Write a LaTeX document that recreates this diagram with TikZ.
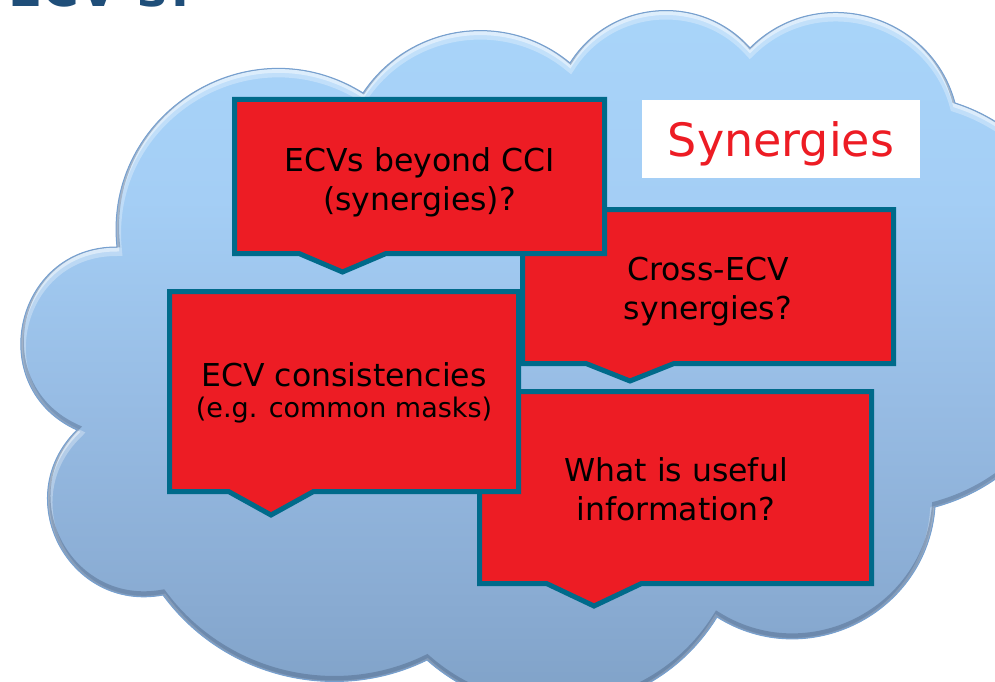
\documentclass[tikz,border=0pt]{standalone}
\usepackage{fontspec}
\setmainfont{DejaVu Sans}

\definecolor{boxred}{RGB}{237,28,36}
\definecolor{boxrim}{RGB}{0,106,138}
\definecolor{titleblue}{RGB}{31,78,121}
\definecolor{rimline}{RGB}{118,160,208}
\definecolor{rimdark}{RGB}{62,82,112}
\definecolor{cla}{RGB}{169,213,250}
\definecolor{clb}{RGB}{164,206,245}
\definecolor{clc}{RGB}{151,188,228}
\definecolor{cld}{RGB}{137,171,210}
\definecolor{cle}{RGB}{126,160,198}

% vertical fill of the cloud, light at the top, greyer towards the bottom
\pgfdeclareverticalshading{cloudfill}{100bp}{color(0bp)=(cle); color(25bp)=(cle);
  color(33.3bp)=(cld); color(47.2bp)=(clc); color(61.1bp)=(clb); color(75bp)=(cla);
  color(100bp)=(cla)}

\tikzset{
  lobe/.style 2 args={bend left=#1, looseness=#2},
  callout/.style={fill=boxred, draw=boxrim, line width=5pt, miter limit=10},
  callout text/.style={align=center, text=black, inner sep=0pt,
    font=\fontsize{31.5}{39}\selectfont},
}

% outline of the cloud, traced clockwise from the left notch
\newcommand\cloudpath{(77,430) to[lobe={78}{1.41}] (117,247) to[lobe={64}{1.18}] (363,93)
  to[lobe={48}{1.02}] (570,63) to[lobe={53}{1.06}] (750,48) to[lobe={60}{1.13}] (955,103)
  to[lobe={40}{0.96}] (1080,300) to[lobe={40}{0.96}] (935,507) to[lobe={59}{1.12}] (717,617)
  to[lobe={50}{1.04}] (427,660) to[lobe={40}{0.96}] (163,595) to[lobe={73}{1.32}] (77,430) -- cycle}

% callout: left, top, right, bottom, pointer left, tip x, pointer right, tip y
\newcommand\calloutbox[8]{\path[callout] (#1,#2) -- (#3,#2) -- (#3,#4) -- (#7,#4)
  -- (#6,#8) -- (#5,#4) -- (#1,#4) -- cycle;}

\begin{document}
\begin{tikzpicture}[x=1pt, y=-1pt]
\useasboundingbox (0,0) rectangle (995,682);
\clip (0,0) rectangle (995,682);

% heading, mostly above the page edge
\node[anchor=base west, inner sep=0pt, text=titleblue,
  font=\bfseries\fontsize{50}{55}\selectfont] (title) at (8.5,7) {ECV's?};

% cloud with a soft bevelled rim
\begin{scope}
  \clip \cloudpath;
  \shade[shading=cloudfill] (0,0) rectangle (1100,720);
  \draw[white, opacity=.30, line width=10pt, shift={(0,4)}] \cloudpath;
  \draw[white, opacity=.45, line width=4pt, shift={(0,2.5)}] \cloudpath;
  \draw[rimdark, opacity=.35, line width=6pt, shift={(0,-2.5)}] \cloudpath;
\end{scope}
\draw[rimline, line width=1pt] \cloudpath;

% label in the upper right
\node[fill=white, minimum width=278pt, minimum height=78pt, inner sep=0pt] (synbox) at (781,139) {};
\node[anchor=base, inner sep=0pt, text=boxred, font=\fontsize{46}{50}\selectfont] (syn) at (781,156) {Synergies};

% callouts, back to front
\calloutbox{479.5}{391.5}{871.5}{583.5}{546.5}{594}{641.5}{606}
\node[callout text] (useful) at (676,489) {What is useful\\information?};

\calloutbox{522.5}{209.5}{893.5}{363.5}{586}{630}{674}{381}
\node[callout text] (cross) at (708,292) {Cross-ECV\\synergies?};

\calloutbox{169.5}{291.5}{518.5}{491.5}{228.5}{271}{313.5}{515}
\node[callout text] (consist) at (344,393) {ECV consistencies\\[-8pt]{\fontsize{27}{31}\selectfont (e.g. common masks)}};

\calloutbox{234.5}{99.5}{604.5}{253.5}{299}{342.5}{386}{272}
\node[callout text] (beyond) at (419.5,182) {ECVs beyond CCI\\(synergies)?};
\end{tikzpicture}
\end{document}
